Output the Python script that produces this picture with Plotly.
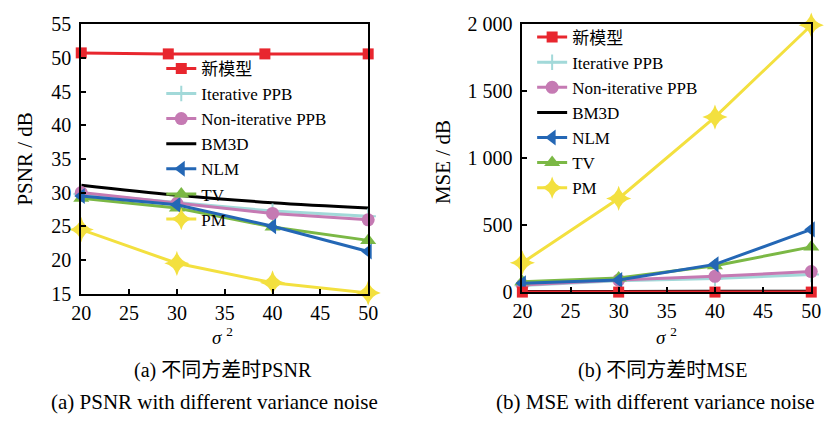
import plotly.graph_objects as go

# ---------------- data ----------------
sigma2 = [20, 30, 40, 50]
sigma2_new_psnr = [20, 29.1, 39.2, 50]

series_names = ["新模型", "Iterative PPB", "Non-iterative PPB", "BM3D", "NLM", "TV", "PM"]

psnr_new = [50.75, 50.6, 50.6, 50.6]
psnr_iter_ppb = [29.8, 28.5, 27.25, 26.5]
psnr_noniter_ppb = [30.0, 28.4, 26.9, 25.95]
psnr_bm3d = [31.1, 29.6, 28.5, 27.7]
psnr_nlm = [29.5, 28.2, 25.0, 21.25]
psnr_tv = [29.15, 27.7, 24.9, 22.9]
psnr_pm = [24.5, 19.5, 16.6, 15.1]

mse_new = [0.5, 0.5, 0.5, 0.5]
mse_iter_ppb = [50, 84, 101, 132]
mse_noniter_ppb = [54, 90, 118, 153]
mse_bm3d = [4, 5, 6, 7]
mse_nlm = [66, 90, 207, 467]
mse_tv = [78, 106, 196, 337]
mse_pm = [219, 698, 1304, 1988]

x_ticks = [20, 25, 30, 35, 40, 45, 50]
psnr_ticks = [15, 20, 25, 30, 35, 40, 45, 50, 55]
mse_ticks = [0, 500, 1000, 1500, 2000]
mse_tick_text = ["0", "500", "1 000", "1 500", "2 000"]

# ---------------- styles ----------------
SERIF = "Liberation Serif"
SERIF_CJK = "Liberation Serif, Noto Sans CJK SC"
styles = {
    "新模型": dict(color="#e8262e", symbol="square", size=11, rank=1),
    "Iterative PPB": dict(color="#a2d9d9", symbol="cross-thin", size=11, rank=2),
    "Non-iterative PPB": dict(color="#c57ab3", symbol="circle", size=13, rank=3),
    "BM3D": dict(color="#000000", symbol=None, size=0, rank=4),
    "NLM": dict(color="#2467b5", symbol="triangle-left", size=14, rank=5),
    "TV": dict(color="#7bb845", symbol="triangle-up", size=14, rank=6),
    "PM": dict(color="#f3e03f", symbol="star-diamond", size=18, rank=7),
}

fig = go.Figure()

def add(name, x, y, xa, ya, legend, show):
    st = styles[name]
    kw = dict(
        x=x, y=y, name=name, xaxis=xa, yaxis=ya, legend=legend,
        showlegend=show, legendrank=st["rank"], cliponaxis=False,
    )
    if st["symbol"] is None:
        fig.add_trace(go.Scatter(mode="lines", line=dict(color=st["color"], width=3, shape="spline"), **kw))
    else:
        fig.add_trace(go.Scatter(
            mode="lines+markers",
            line=dict(color=st["color"], width=3),
            marker=dict(symbol=st["symbol"], size=st["size"], color=st["color"],
                        line=dict(color=st["color"], width=2 if st["symbol"] == "cross-thin" else 0)),
            **kw))

draw_order = ["BM3D", "Iterative PPB", "Non-iterative PPB", "PM", "TV", "NLM", "新模型"]
psnr_data = {
    "新模型": (sigma2_new_psnr, psnr_new),
    "Iterative PPB": (sigma2, psnr_iter_ppb),
    "Non-iterative PPB": (sigma2, psnr_noniter_ppb),
    "BM3D": (sigma2, psnr_bm3d),
    "NLM": (sigma2, psnr_nlm),
    "TV": (sigma2, psnr_tv),
    "PM": (sigma2, psnr_pm),
}
mse_data = {
    "新模型": (sigma2, mse_new),
    "Iterative PPB": (sigma2, mse_iter_ppb),
    "Non-iterative PPB": (sigma2, mse_noniter_ppb),
    "BM3D": (sigma2, mse_bm3d),
    "NLM": (sigma2, mse_nlm),
    "TV": (sigma2, mse_tv),
    "PM": (sigma2, mse_pm),
}
for n in draw_order:
    add(n, *psnr_data[n], "x", "y", "legend", True)
for n in draw_order:
    add(n, *mse_data[n], "x2", "y2", "legend2", True)

W, H = 832, 425
axis_common = dict(
    showline=True, linecolor="black", linewidth=2, mirror=True,
    ticks="inside", ticklen=5, tickwidth=1.5, tickcolor="black",
    showgrid=False, zeroline=False,
    tickfont=dict(family=SERIF, size=20, color="black"),
)

legend_font = dict(family=SERIF_CJK, size=17, color="black")
fig.update_layout(
    width=W, height=H,
    margin=dict(l=0, r=0, t=0, b=0),
    paper_bgcolor="white", plot_bgcolor="white",
    font=dict(family=SERIF_CJK, color="black"),
    xaxis=dict(domain=[73 / W, 367 / W], range=[20, 50], tickvals=x_ticks, anchor="y", **axis_common),
    yaxis=dict(domain=[1 - 298 / H, 1 - 14 / H], range=[15, 55], tickvals=psnr_ticks, anchor="x",
               ticklabelstandoff=4, **axis_common),
    xaxis2=dict(domain=[525 / W, 821 / W], range=[20, 50], tickvals=x_ticks, anchor="y2", **axis_common),
    yaxis2=dict(domain=[1 - 296.5 / H, 1 - 13.3 / H], range=[0, 2000], tickvals=mse_ticks,
                ticktext=mse_tick_text, anchor="x2", ticklabelstandoff=4, **axis_common),
    legend=dict(x=155 / W, y=1 - 42 / H, xanchor="left", yanchor="top",
                bgcolor="rgba(0,0,0,0)", font=legend_font,
                itemwidth=30, tracegroupgap=0),
    legend2=dict(x=535 / W, y=1 - 9 / H, xanchor="left", yanchor="top",
                 bgcolor="rgba(0,0,0,0)", font=legend_font,
                 itemwidth=30, tracegroupgap=0),
    showlegend=True,
)

annotations = [
    dict(text="PSNR / dB", x=15 / W, y=1 - 156 / H, textangle=-90, size=21),
    dict(text="MSE / dB", x=443 / W, y=1 - 159 / H, textangle=-90, size=21),
    dict(text="<i>σ</i> <sup>2</sup>", x=218 / W, y=1 - 343 / H, size=19),
    dict(text="<i>σ</i> <sup>2</sup>", x=673 / W, y=1 - 343 / H, size=19),
    dict(text="(a) 不同方差时PSNR", x=218 / W, y=1 - 379 / H, size=20),
    dict(text="(a) PSNR with different variance noise", x=210 / W, y=1 - 412 / H, size=21),
    dict(text="(b) 不同方差时MSE", x=669 / W, y=1 - 379 / H, size=20),
    dict(text="(b) MSE with different variance noise", x=661 / W, y=1 - 412 / H, size=21),
]
for a in annotations:
    size = a.pop("size")
    fig.add_annotation(xref="paper", yref="paper", xanchor="center", yanchor="middle",
                       showarrow=False, font=dict(family=SERIF_CJK, size=size, color="black"), **a)

fig.write_html("out.html")
